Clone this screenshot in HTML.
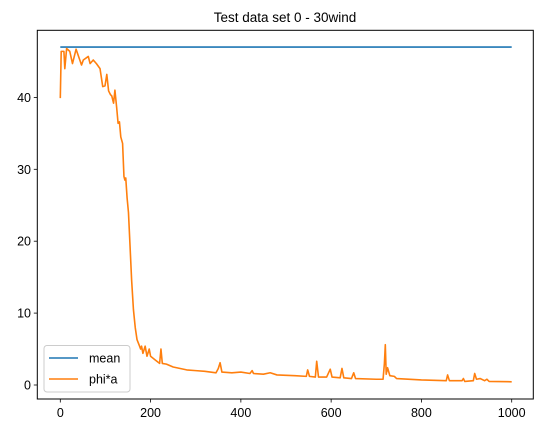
<!DOCTYPE html>
<html><head><meta charset="utf-8"><style>
html,body{margin:0;padding:0;background:#fff;}
svg{display:block;font-family:"Liberation Sans","DejaVu Sans",sans-serif;}
</style></head><body>
<svg id="chart" width="543" height="433" viewBox="0 0 543 433">
<text x="285" y="22" text-anchor="middle" font-size="13.5" fill="#000">Test data set 0 - 30wind</text>
<g id="plot"></g>
<rect x="37.3" y="30.3" width="496" height="368.7" fill="none" stroke="#000" stroke-width="1"/>
<g>
<rect x="44" y="345.5" width="86" height="46.5" rx="3" fill="#fff" fill-opacity="0.8" stroke="#ccc"/>
<line x1="49" y1="358" x2="78" y2="358" stroke="#1f77b4" stroke-width="1.6"/>
<text x="89" y="362.5" font-size="12.5">mean</text>
<line x1="49" y1="379" x2="78" y2="379" stroke="#ff7f0e" stroke-width="1.6"/>
<text x="89" y="383.5" font-size="12.5">phi*a</text>
</g>
</svg>
<script>
const xTicks=[0,200,400,600,800,1000];
const yTicks=[0,10,20,30,40];
const meanX=[0,1000];
const meanY=[47,47];
const phiX=[0,2,8,10,14,21,27,35,47,51,
 62,66,73,80,88,94,99,103,107,111,
 114,118,121,125,128,131,134,138,141,143,
 145,148,151,154,158,162,166,170,175,178,
 180,183,188,192,197,200,210,220,223,226,
 235,250,280,300,320,345,350,354,358,380,
 400,420,425,428,450,465,480,520,545,548,
 552,565,568,572,590,598,602,620,624,628,
 645,650,654,700,715,718,720,722,725,730,
 740,745,800,855,858,862,890,893,896,915,
 918,922,930,940,945,950,1000];
const phiY=[39.9,46.4,46.4,44.0,46.8,46.4,44.7,46.7,44.5,45.2,
 45.7,44.7,45.2,44.7,44.0,41.5,41.6,43.2,40.9,40.4,
 40.2,39.2,41.0,38.5,36.4,36.6,34.5,33.6,29,28.5,
 28.8,26,24,20,14.6,10.5,8.0,6.3,5.5,5.0,
 5.4,4.4,5.4,4.0,5.0,4.0,3.5,3.0,5.0,3.0,
 2.9,2.5,2.1,2.0,1.9,1.7,2.3,3.1,1.8,1.7,
 1.8,1.6,2.0,1.6,1.5,1.7,1.4,1.3,1.2,2.1,
 1.2,1.1,3.3,1.1,1.1,2.2,1.1,1.0,2.3,1.0,
 0.9,1.7,0.9,0.8,0.8,3.0,5.6,1.5,2.4,1.3,
 1.2,0.9,0.7,0.6,1.4,0.6,0.6,0.9,0.5,0.6,
 1.6,0.8,0.9,0.6,0.8,0.5,0.45];
const sx=v=>60.3+v*0.4514;
const sy=v=>385-v*7.19;
const NS='http://www.w3.org/2000/svg';
const svg=document.getElementById('chart');
const plot=document.getElementById('plot');
function mk(t,a,p){const e=document.createElementNS(NS,t);for(const k in a)e.setAttribute(k,a[k]);(p||svg).appendChild(e);return e;}
xTicks.forEach(v=>{
 const l=mk('line',{x1:sx(v),x2:sx(v),y1:399,y2:402.5,stroke:'#000','stroke-width':0.8});
 
 
 const t=mk('text',{x:sx(v),y:417,'text-anchor':'middle','font-size':12.5});
 t.textContent=v;
 
 
});
yTicks.forEach(v=>{
 const l=mk('line',{x1:33.8,x2:37.3,y1:sy(v),y2:sy(v),stroke:'#000','stroke-width':0.8});
 
 
 const t=mk('text',{x:31,y:sy(v)+4.5,'text-anchor':'end','font-size':12.5});
 t.textContent=v;
 
 
});
const mp=mk('polyline',{points:meanX.map((x,i)=>sx(x)+','+sy(meanY[i])).join(' '),fill:'none',stroke:'#1f77b4','stroke-width':1.6},plot);


const pp=mk('polyline',{points:phiX.map((x,i)=>sx(x)+','+sy(phiY[i])).join(' '),fill:'none',stroke:'#ff7f0e','stroke-width':1.6,'stroke-linejoin':'round'},plot);


</script>
</body></html>
